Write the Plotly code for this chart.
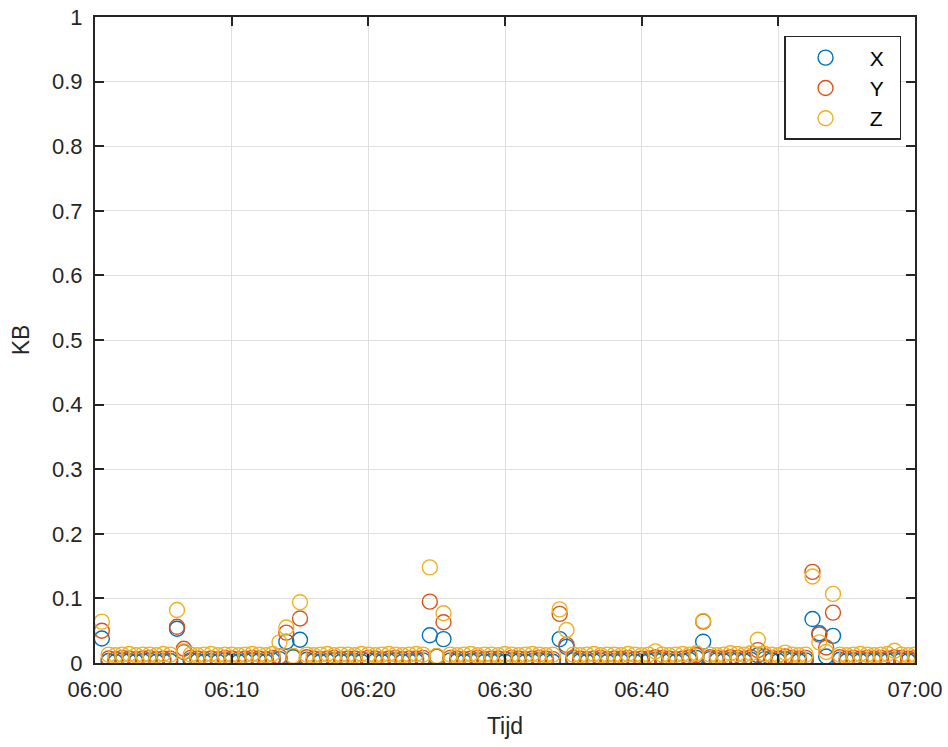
import pandas as pd
import plotly.graph_objects as go

# 30-second samples from 06:00:30 to 07:00:00
start_time = "2000-01-01 06:00:30"
n_samples = 120
times = pd.date_range(start_time, periods=n_samples, freq="30s")

x_vals = [
    0.038, 0.003, 0.002, 0.004, 0.003, 0.002, 0.003, 0.004, 0.002, 0.003,
    0.003, 0.053, 0.017, 0.004, 0.003, 0.002, 0.003, 0.002, 0.004, 0.003,
    0.002, 0.003, 0.004, 0.003, 0.002, 0.004, 0.006, 0.033, 0.009, 0.036,
    0.005, 0.003, 0.002, 0.003, 0.004, 0.002, 0.003, 0.003, 0.002, 0.004,
    0.003, 0.002, 0.003, 0.004, 0.002, 0.003, 0.003, 0.004, 0.043, 0.010,
    0.037, 0.004, 0.003, 0.002, 0.003, 0.004, 0.002, 0.003, 0.003, 0.002,
    0.004, 0.003, 0.002, 0.003, 0.004, 0.003, 0.002, 0.037, 0.025, 0.004,
    0.003, 0.002, 0.003, 0.004, 0.002, 0.003, 0.003, 0.004, 0.002, 0.003,
    0.003, 0.005, 0.004, 0.003, 0.002, 0.003, 0.005, 0.008, 0.033, 0.006,
    0.004, 0.003, 0.005, 0.004, 0.003, 0.005, 0.012, 0.006, 0.004, 0.003,
    0.006, 0.004, 0.003, 0.004, 0.068, 0.046, 0.010, 0.042, 0.005, 0.003,
    0.004, 0.003, 0.004, 0.003, 0.004, 0.003, 0.005, 0.004, 0.003, 0.004,
]

y_vals = [
    0.050, 0.007, 0.006, 0.008, 0.007, 0.006, 0.007, 0.008, 0.006, 0.007,
    0.007, 0.056, 0.022, 0.008, 0.007, 0.006, 0.007, 0.006, 0.008, 0.007,
    0.006, 0.007, 0.008, 0.007, 0.006, 0.008, 0.010, 0.047, 0.010, 0.069,
    0.009, 0.007, 0.006, 0.007, 0.008, 0.006, 0.007, 0.007, 0.006, 0.008,
    0.007, 0.006, 0.007, 0.008, 0.006, 0.007, 0.007, 0.008, 0.095, 0.010,
    0.063, 0.008, 0.007, 0.006, 0.007, 0.008, 0.006, 0.007, 0.007, 0.006,
    0.008, 0.007, 0.006, 0.007, 0.008, 0.007, 0.006, 0.076, 0.028, 0.008,
    0.007, 0.006, 0.007, 0.008, 0.006, 0.007, 0.007, 0.008, 0.006, 0.007,
    0.007, 0.009, 0.008, 0.007, 0.006, 0.007, 0.009, 0.012, 0.064, 0.009,
    0.008, 0.007, 0.009, 0.008, 0.007, 0.009, 0.020, 0.010, 0.008, 0.007,
    0.010, 0.008, 0.007, 0.008, 0.141, 0.044, 0.024, 0.078, 0.009, 0.007,
    0.008, 0.007, 0.008, 0.007, 0.008, 0.007, 0.009, 0.008, 0.007, 0.008,
]

z_vals = [
    0.064, 0.013, 0.012, 0.013, 0.014, 0.012, 0.013, 0.013, 0.012, 0.014,
    0.013, 0.082, 0.018, 0.013, 0.012, 0.013, 0.014, 0.012, 0.013, 0.013,
    0.012, 0.013, 0.014, 0.013, 0.012, 0.014, 0.032, 0.055, 0.011, 0.094,
    0.013, 0.012, 0.013, 0.014, 0.012, 0.013, 0.013, 0.012, 0.014, 0.013,
    0.012, 0.013, 0.014, 0.013, 0.012, 0.013, 0.014, 0.013, 0.148, 0.011,
    0.077, 0.013, 0.012, 0.013, 0.014, 0.012, 0.013, 0.013, 0.012, 0.014,
    0.013, 0.012, 0.013, 0.014, 0.013, 0.012, 0.013, 0.083, 0.051, 0.013,
    0.012, 0.013, 0.014, 0.012, 0.013, 0.013, 0.012, 0.014, 0.013, 0.012,
    0.013, 0.018, 0.013, 0.012, 0.013, 0.014, 0.013, 0.015, 0.065, 0.013,
    0.012, 0.013, 0.015, 0.014, 0.013, 0.015, 0.036, 0.014, 0.013, 0.012,
    0.016, 0.013, 0.012, 0.013, 0.134, 0.032, 0.017, 0.107, 0.013, 0.012,
    0.013, 0.014, 0.013, 0.012, 0.013, 0.014, 0.019, 0.013, 0.012, 0.013,
]

series_names = ["X", "Y", "Z"]
series_colors = ["#0072BD", "#D95319", "#EDB120"]
y_ticks = [0, 0.1, 0.2, 0.3, 0.4, 0.5, 0.6, 0.7, 0.8, 0.9, 1]
y_tick_text = ["0", "0.1", "0.2", "0.3", "0.4", "0.5", "0.6", "0.7", "0.8", "0.9", "1"]

FONT = "Liberation Sans, Arial, sans-serif"
AX = "#262626"

fig = go.Figure()
for name, vals, col in zip(series_names, [x_vals, y_vals, z_vals], series_colors):
    fig.add_trace(go.Scatter(
        x=times, y=vals, mode="markers", name="\u2009" + name + "\u2002",
        marker=dict(symbol="circle-open", size=15, color=col, line=dict(width=1.4, color=col)),
    ))

axis_common = dict(
    showline=True, mirror="ticks", linecolor=AX, linewidth=2,
    ticks="inside", ticklen=9, tickwidth=2, tickcolor=AX,
    showgrid=True, gridcolor="#DFDFDF", gridwidth=1, zeroline=False,
    tickfont=dict(family=FONT, size=22, color=AX),
    automargin=False, ticklabelstandoff=6, ticklabeloverflow="allow",
)

fig.update_layout(
    width=948, height=747,
    margin=dict(l=95, r=33, t=17, b=84),
    paper_bgcolor="white", plot_bgcolor="white",
    font=dict(family=FONT, color=AX),
    xaxis=dict(
        type="date",
        range=["2000-01-01 06:00", "2000-01-01 07:00"],
        dtick=600000, tickformat="%H:%M",
        title=dict(text="Tijd", font=dict(family=FONT, size=23, color=AX), standoff=16),
        **axis_common,
    ),
    yaxis=dict(
        range=[0, 1], tickvals=y_ticks, ticktext=y_tick_text,
        title=dict(text="KB", font=dict(family=FONT, size=23, color=AX), standoff=16),
        **axis_common,
    ),
    legend=dict(
        x=0.8403, y=0.9706, xanchor="left", yanchor="top",
        bgcolor="white", bordercolor=AX, borderwidth=1.5,
        font=dict(family=FONT, size=21, color="black"),
        itemwidth=70,
    ),
    showlegend=True,
)

fig.write_html(
    "out.html",
    config={"displayModeBar": False},
    post_script="document.body.style.margin='0';document.body.style.overflow='hidden';",
)
